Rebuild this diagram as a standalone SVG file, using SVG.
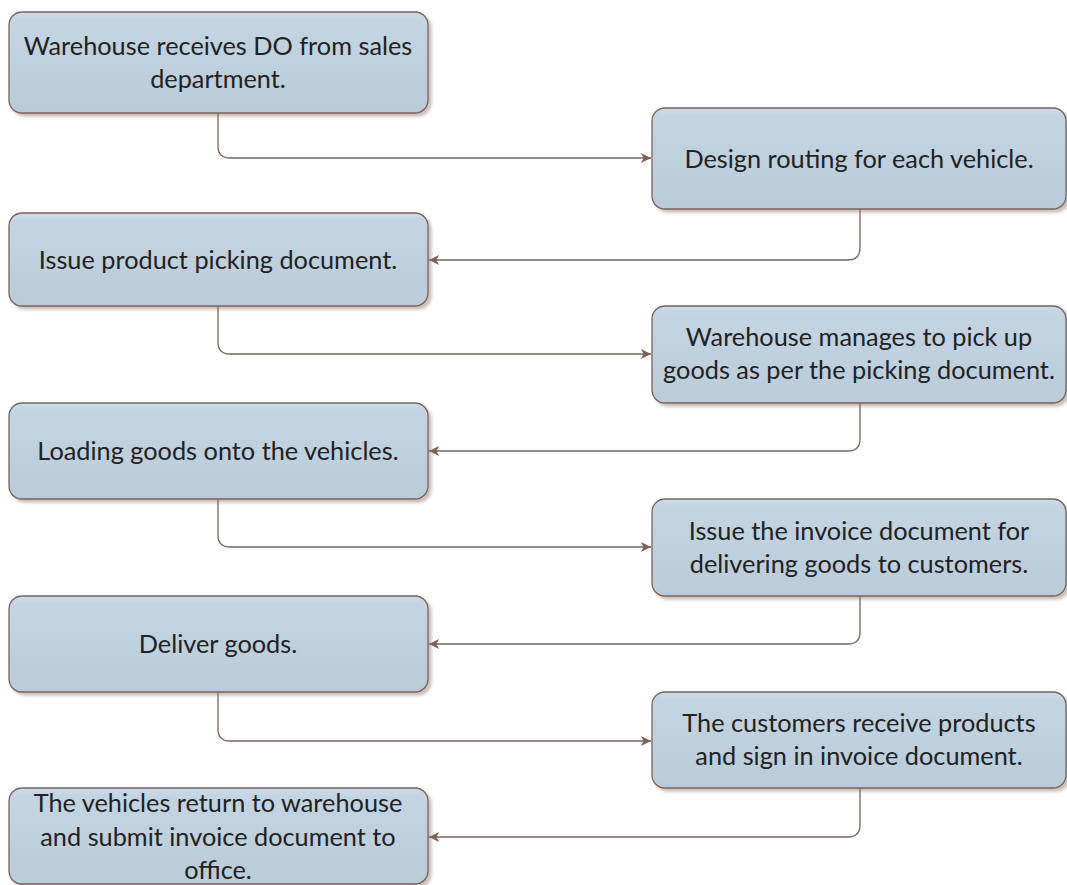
<svg xmlns="http://www.w3.org/2000/svg" width="1067" height="885" viewBox="0 0 1067 885">
  <style>
    .box { fill: url(#boxFill); stroke: #7b6259; stroke-width: 1.3; filter: url(#shadow); }
    .label { font-family: Lato, "Open Sans", sans-serif; font-size: 25.3px; fill: #222222; text-anchor: middle; }
    .link { fill: none; stroke: #7b6259; stroke-width: 1.3; marker-end: url(#arrow); }
  </style>
  <defs>
    <linearGradient id="boxFill" x1="0" y1="0" x2="0" y2="1">
      <stop offset="0" stop-color="#cddcea"/>
      <stop offset="0.08" stop-color="#c3d4e2"/>
      <stop offset="1" stop-color="#bacbd9"/>
    </linearGradient>
    <filter id="shadow" x="-5%" y="-10%" width="115%" height="130%">
      <feDropShadow dx="3" dy="3" stdDeviation="1.5" flood-color="#8c7468" flood-opacity="0.45"/>
    </filter>
    <marker id="arrow" viewBox="0 0 10 10" refX="10" refY="5" markerWidth="10" markerHeight="10" markerUnits="userSpaceOnUse" orient="auto">
      <path d="M0,0 L10,5 L0,10 L2.5,5 Z" fill="#7b6259"/>
    </marker>
  </defs>

  <!-- connectors -->
  <g id="connectors">
    <path class="link" d="M218,113 V146 Q218,158 230,158 H651"/>
    <path class="link" d="M860,209 V248 Q860,260 848,260 H429"/>
    <path class="link" d="M218,306 V342 Q218,354 230,354 H651"/>
    <path class="link" d="M860,403 V439 Q860,451 848,451 H429"/>
    <path class="link" d="M218,499 V535 Q218,547 230,547 H651"/>
    <path class="link" d="M860,596 V632 Q860,644 848,644 H429"/>
    <path class="link" d="M218,692 V729 Q218,741 230,741 H651"/>
    <path class="link" d="M860,788 V825 Q860,837 848,837 H429"/>
  </g>

  <g id="node1">
    <rect class="box" x="9" y="12" width="419" height="101" rx="13"/>
    <text class="label" x="218" y="55">Warehouse receives DO from sales</text>
    <text class="label" x="218" y="88">department.</text>
  </g>
  <g id="node2">
    <rect class="box" x="652" y="108" width="414" height="101" rx="13"/>
    <text class="label" x="859" y="168">Design routing for each vehicle.</text>
  </g>
  <g id="node3">
    <rect class="box" x="9" y="213" width="419" height="93" rx="13"/>
    <text class="label" x="218" y="269">Issue product picking document.</text>
  </g>
  <g id="node4">
    <rect class="box" x="652" y="306" width="414" height="97" rx="13"/>
    <text class="label" x="859" y="346">Warehouse manages to pick up</text>
    <text class="label" x="859" y="379">goods as per the picking document.</text>
  </g>
  <g id="node5">
    <rect class="box" x="9" y="403" width="419" height="96" rx="13"/>
    <text class="label" x="218" y="460">Loading goods onto the vehicles.</text>
  </g>
  <g id="node6">
    <rect class="box" x="652" y="499" width="414" height="97" rx="13"/>
    <text class="label" x="859" y="540">Issue the invoice document for</text>
    <text class="label" x="859" y="573">delivering goods to customers.</text>
  </g>
  <g id="node7">
    <rect class="box" x="9" y="596" width="419" height="96" rx="13"/>
    <text class="label" x="218" y="653">Deliver goods.</text>
  </g>
  <g id="node8">
    <rect class="box" x="652" y="692" width="414" height="96" rx="13"/>
    <text class="label" x="859" y="732">The customers receive products</text>
    <text class="label" x="859" y="765">and sign in invoice document.</text>
  </g>
  <g id="node9">
    <rect class="box" x="9" y="788" width="419" height="96" rx="13"/>
    <text class="label" x="218" y="812">The vehicles return to warehouse</text>
    <text class="label" x="218" y="846">and submit invoice document to</text>
    <text class="label" x="218" y="879">office.</text>
  </g>
</svg>
